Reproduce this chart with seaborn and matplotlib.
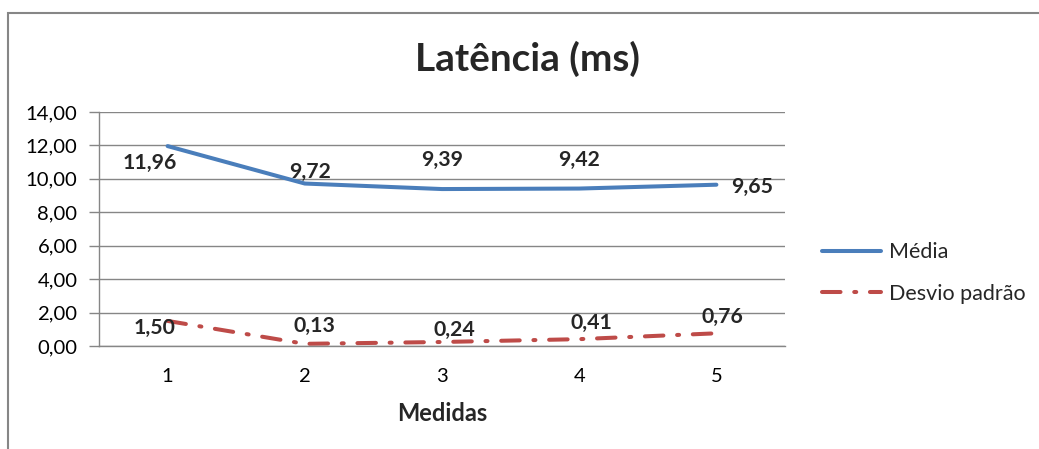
import matplotlib
matplotlib.use("Agg")
import matplotlib.pyplot as plt
from matplotlib.lines import Line2D
from matplotlib.patches import Rectangle
from matplotlib.ticker import FuncFormatter, FixedLocator
import seaborn as sns
import pandas as pd

# Latency measurements (ms)
medidas = [1, 2, 3, 4, 5]
media = [11.96, 9.72, 9.39, 9.42, 9.65]
desvio = [1.50, 0.13, 0.24, 0.41, 0.76]
series_names = ["Média", "Desvio padrão"]
yticks = [0, 2, 4, 6, 8, 10, 12, 14]

sns.set_style("white")
plt.rcParams["font.family"] = ["Lato", "DejaVu Sans"]

W, H = 1039, 449
fig = plt.figure(figsize=(W / 100, H / 100), dpi=100)

# chart frame
fig.patches.append(Rectangle((8 / W, -0.1), 1.2, 1 - 13 / H + 0.1,
                             transform=fig.transFigure, fill=False,
                             edgecolor="#868686", linewidth=1.5))

ax = fig.add_axes([99 / W, 1 - 346 / H, (785 - 99) / W, (346 - 112) / H])

df = pd.DataFrame({"Medidas": medidas, "Média": media, "Desvio padrão": desvio})
long = df.melt(id_vars="Medidas", var_name="serie", value_name="valor")

blue = "#4A7EBB"
red = "#BE4B48"
dashdot = (4.6, 3.4, 0.5, 3.4)

sns.lineplot(data=long[long.serie == "Média"], x="Medidas", y="valor",
             color=blue, linewidth=2.9, ax=ax, legend=False)
sns.lineplot(data=long[long.serie == "Desvio padrão"], x="Medidas", y="valor",
             color=red, linewidth=2.9, ax=ax, legend=False)
ax.lines[1].set_dashes(dashdot)
ax.lines[1].set_dash_capstyle("round")
ax.lines[0].set_solid_capstyle("round")

ax.set_xlim(0.5, 5.5)
ax.set_ylim(0, 14)
ax.yaxis.set_major_locator(FixedLocator(yticks))
ax.yaxis.set_major_formatter(FuncFormatter(lambda v, p: f"{v:.2f}".replace(".", ",")))
ax.grid(axis="y", color="#868686", linewidth=1)
ax.set_axisbelow(True)
for s in ["top", "right"]:
    ax.spines[s].set_visible(False)
for s in ["left", "bottom"]:
    ax.spines[s].set_color("#868686")
    ax.spines[s].set_linewidth(1)

ax.set_xticks(medidas)
ax.set_xticks([0.5, 1.5, 2.5, 3.5, 4.5, 5.5], minor=True)
ax.tick_params(axis="x", which="major", length=0, pad=16, labelsize=14.5, colors="#000000")
ax.tick_params(axis="x", which="minor", length=7, color="#868686", width=1)
ax.tick_params(axis="y", which="major", left=True, length=7.5, color="#868686", width=1,
               labelsize=14.6, pad=8, labelcolor="#000000")

ax.set_xlabel("Medidas", fontsize=17, fontweight="bold", labelpad=12)
ax.set_ylabel("")

fig.text(527 / W, 1 - 59 / H, "Latência (ms)", fontsize=27.9, fontweight="bold",
         ha="center", va="center")

# value labels
media_off = [(-18, -17), (5, 12), (0, 29), (0, 29), (36, -2)]
desvio_off = [(-13, -7), (10, 18), (12, 12), (12, 16), (6, 16)]
for x, v, o in zip(medidas, media, media_off):
    ax.annotate(f"{v:.2f}".replace(".", ","), (x, v), xytext=o, textcoords="offset pixels",
                ha="center", va="center", fontsize=15.3, fontweight="bold")
for x, v, o in zip(medidas, desvio, desvio_off):
    ax.annotate(f"{v:.2f}".replace(".", ","), (x, v), xytext=o, textcoords="offset pixels",
                ha="center", va="center", fontsize=15.3, fontweight="bold")

handles = [Line2D([], [], color=blue, linewidth=2.9, solid_capstyle="round"),
           Line2D([], [], color=red, linewidth=2.9, dashes=dashdot, dash_capstyle="round")]
fig.legend(handles, series_names, loc="center left", bbox_to_anchor=(822 / W, 1 - 273 / H),
           frameon=False, fontsize=15.5, handlelength=2.75, handletextpad=0.37,
           labelspacing=1.0, borderpad=0, borderaxespad=0)

fig.savefig("out.png", dpi=100)
